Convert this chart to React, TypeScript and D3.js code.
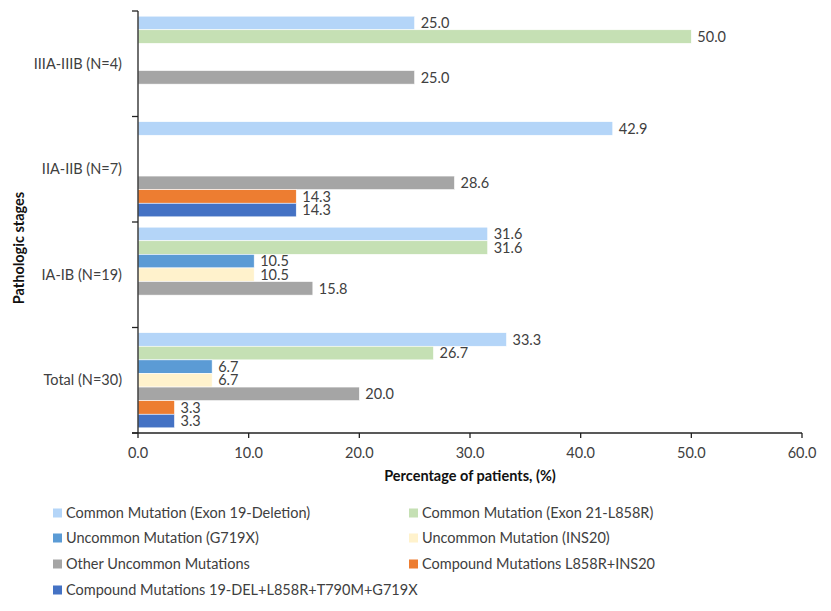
import React from "react";
import * as d3 from "d3";

const categories = ["IIIA-IIIB (N=4)", "IIA-IIB (N=7)", "IA-IB (N=19)", "Total (N=30)"];
const seriesNames = [
  "Common Mutation (Exon 19-Deletion)",
  "Common Mutation (Exon 21-L858R)",
  "Uncommon Mutation (G719X)",
  "Uncommon Mutation (INS20)",
  "Other Uncommon Mutations",
  "Compound Mutations L858R+INS20",
  "Compound Mutations 19-DEL+L858R+T790M+G719X",
];
const seriesColors = ["#B4D5F8", "#C5E0B4", "#5B9BD5", "#FFF2CC", "#A5A5A5", "#ED7D31", "#4472C4"];
// values per series, in category order
const exon19 = [25.0, 42.9, 31.6, 33.3];
const exon21 = [50.0, 0, 31.6, 26.7];
const g719x = [0, 0, 10.5, 6.7];
const ins20 = [0, 0, 10.5, 6.7];
const otherUncommon = [25.0, 28.6, 15.8, 20.0];
const compoundL858R = [0, 14.3, 0, 3.3];
const compound19Del = [0, 14.3, 0, 3.3];
const seriesValues = [exon19, exon21, g719x, ins20, otherUncommon, compoundL858R, compound19Del];
const xTicks = [0, 10, 20, 30, 40, 50, 60];

const FONT = "Lato, 'Open Sans', sans-serif";
const TEXT = "#404040";

export default function App() {
  const W = 831, H = 611;
  const left = 138, right = 802, top = 11, bottom = 433;
  const x = d3.scaleLinear().domain([0, 60]).range([left, right]);
  const y = d3.scaleBand<string>().domain(categories).range([top, bottom]).paddingInner(0).paddingOuter(0);
  const inner = d3.scaleBand<string>().domain(seriesNames).range([0, y.bandwidth()]).paddingInner(0).paddingOuter(0.38);
  const fs = 14.5;

  const legendRows = [513, 538, 564, 590];
  const legendCols = [53, 409];

  return (
    <svg width={W} height={H} style={{ position: "absolute", left: 0, top: 0, background: "#fff" }} fontFamily={FONT}>
      <rect x={0} y={0} width={W} height={H} fill="#fff" />
      {/* bars */}
      {categories.map((c, ci) => (
        <g key={c}>
          {seriesNames.map((s, si) => {
            const v = seriesValues[si][ci];
            if (!v) return null;
            const by = (y(c) as number) + (inner(s) as number);
            const bh = inner.bandwidth();
            return (
              <g key={s}>
                <rect x={x(0)} y={by} width={x(v) - x(0)} height={bh} fill={seriesColors[si]} stroke="#fff" strokeWidth={0.6} />
                <text x={x(v) + 6} y={by + bh / 2} dy="0.36em" fontSize={fs} fill={TEXT}>{v.toFixed(1)}</text>
              </g>
            );
          })}
        </g>
      ))}
      {/* y axis */}
      <line x1={left} x2={left} y1={top} y2={bottom} stroke="#222" strokeWidth={1.3} />
      {[...categories.map((c) => y(c) as number), bottom].map((t, i) => (
        <line key={i} x1={left - 6} x2={left} y1={t} y2={t} stroke="#222" strokeWidth={1.3} />
      ))}
      {categories.map((c) => (
        <text key={c} x={122} y={(y(c) as number) + y.bandwidth() / 2} dy="0.36em" textAnchor="end" fontSize={fs} fill={TEXT}>{c}</text>
      ))}
      {/* x axis */}
      <line x1={left - 6} x2={right} y1={bottom} y2={bottom} stroke="#222" strokeWidth={1.3} />
      {xTicks.map((t) => (
        <g key={t}>
          <line x1={x(t)} x2={x(t)} y1={bottom} y2={bottom + 5} stroke="#222" strokeWidth={1.3} />
          <text x={x(t)} y={bottom + 20} dy="0.36em" textAnchor="middle" fontSize={fs} fill={TEXT}>{t.toFixed(1)}</text>
        </g>
      ))}
      <text x={470} y={476} dy="0.36em" textAnchor="middle" fontSize={14.5} fontWeight="bold" fill="#111">Percentage of patients, (%)</text>
      <text transform={`translate(19,248) rotate(-90)`} dy="0.36em" textAnchor="middle" fontSize={14.5} fontWeight="bold" fill="#111">Pathologic stages</text>
      {/* legend */}
      {seriesNames.map((s, i) => {
        const col = i % 2, row = Math.floor(i / 2);
        const lx = legendCols[col], ly = legendRows[row];
        return (
          <g key={s}>
            <rect x={lx} y={ly - 4.5} width={9} height={9} fill={seriesColors[i]} />
            <text x={lx + 13} y={ly} dy="0.36em" fontSize={fs} fill={TEXT}>{s}</text>
          </g>
        );
      })}
    </svg>
  );
}
